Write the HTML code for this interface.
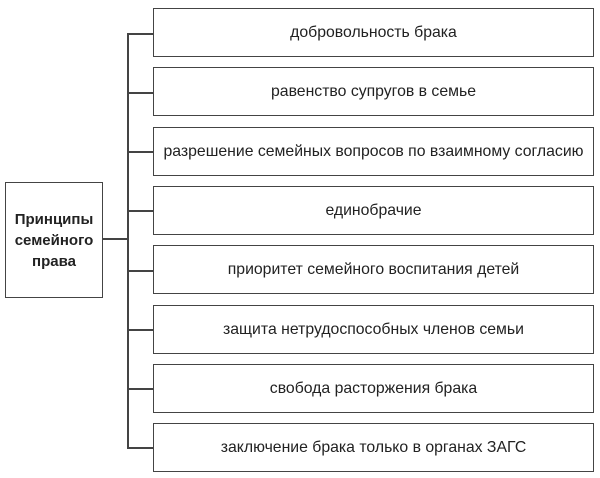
<!DOCTYPE html>
<html><head><meta charset="utf-8"><style>
body{margin:0;width:600px;height:478px;background:#fff;position:relative;overflow:hidden;font-family:"Liberation Sans","Noto Sans CJK SC",sans-serif;color:#222}
.b{position:absolute;left:153px;width:439px;height:47px;border:1.5px solid #444;display:flex;align-items:center;justify-content:center;font-size:15.8px;white-space:nowrap}
.l{position:absolute;background:#444}
</style></head><body>
<div style="position:absolute;left:5px;top:182px;width:96px;height:114px;border:1.5px solid #444;display:flex;align-items:center;justify-content:center;text-align:center;font-weight:bold;font-size:15px;line-height:21px">Принципы<br>семейного<br>права</div>
<div class="l" style="left:102px;top:238px;width:26px;height:1.5px"></div>
<div class="l" style="left:127px;top:33px;width:1.5px;height:415px"></div>
<div class="l" style="left:127px;top:33px;width:26px;height:1.5px"></div>
<div class="l" style="left:127px;top:92px;width:26px;height:1.5px"></div>
<div class="l" style="left:127px;top:151px;width:26px;height:1.5px"></div>
<div class="l" style="left:127px;top:210px;width:26px;height:1.5px"></div>
<div class="l" style="left:127px;top:270px;width:26px;height:1.5px"></div>
<div class="l" style="left:127px;top:329px;width:26px;height:1.5px"></div>
<div class="l" style="left:127px;top:388px;width:26px;height:1.5px"></div>
<div class="l" style="left:127px;top:447px;width:26px;height:1.5px"></div>
<div class="b" style="top:8px">добровольность брака</div>
<div class="b" style="top:67px">равенство супругов в семье</div>
<div class="b" style="top:127px">разрешение семейных вопросов по взаимному согласию</div>
<div class="b" style="top:186px">единобрачие</div>
<div class="b" style="top:245px">приоритет семейного воспитания детей</div>
<div class="b" style="top:305px">защита нетрудоспособных членов семьи</div>
<div class="b" style="top:364px">свобода расторжения брака</div>
<div class="b" style="top:423px">заключение брака только в органах ЗАГС</div>
</body></html>
